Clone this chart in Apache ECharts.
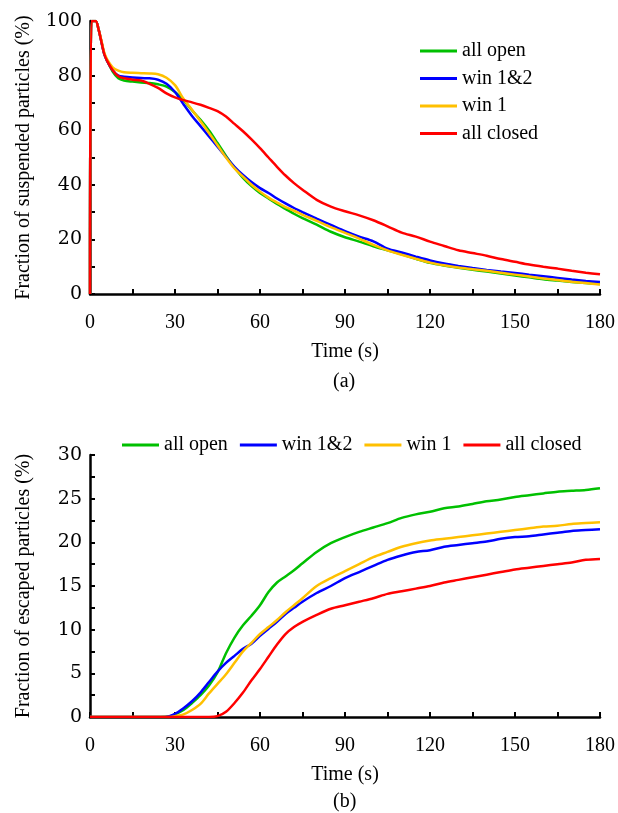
<!DOCTYPE html>
<html>
<head>
<meta charset="utf-8">
<script src="https://cdn.jsdelivr.net/npm/echarts@6/dist/echarts.min.js"></script>
<style>
html,body{margin:0;padding:0;background:#fff;}
#chart{width:618px;height:813px;}
</style>
</head>
<body>
<div id="chart"></div>
<script>
// ---------- Data: (a) suspended particles ----------
var timeA = [0, 0.5, 2, 3, 4, 5, 6, 8, 10, 12, 15, 18, 21, 24, 27, 30, 33, 36, 39, 42, 45, 48, 51, 54, 57, 60, 63, 66, 69, 72, 75, 80, 85, 90, 95, 100, 105, 110, 115, 120, 125, 130, 135, 140, 145, 150, 155, 160, 165, 170, 175, 180];
var suspAllOpen = [0, 100, 100, 97, 92.5, 88, 85.5, 81.5, 79, 78.2, 77.8, 77.5, 77.3, 76.8, 76, 74, 71, 67.3, 63.8, 59.9, 55.3, 50.6, 46.3, 42.5, 39.5, 37, 35, 33, 31.2, 29.4, 27.8, 25.4, 22.8, 20.8, 19.2, 17.5, 16, 14.5, 12.9, 11.4, 10.4, 9.6, 8.9, 8.2, 7.5, 6.8, 6.1, 5.4, 4.9, 4.4, 4.0, 3.7];
var suspWin12 = [0, 100, 100, 97, 92.5, 88, 85.5, 82, 80, 79.6, 79.3, 79.1, 79, 78.5, 77, 74, 69.5, 65.2, 61.5, 57.7, 54, 50.2, 46.6, 43.6, 41, 38.8, 37, 35, 33.2, 31.5, 30, 27.6, 25.3, 23, 21, 19.3, 16.6, 15.2, 13.7, 12.3, 11.2, 10.3, 9.5, 8.8, 8.2, 7.7, 7.1, 6.5, 5.9, 5.3, 4.8, 4.4];
var suspWin1 = [0, 100, 100, 97, 93, 88.5, 86, 83, 81.8, 81.2, 81, 80.9, 80.8, 80.5, 79.2, 76.5, 71.5, 67.5, 63.3, 59, 54.5, 50, 46, 43, 40, 37.5, 35.3, 33.5, 31.8, 30.5, 29, 26.8, 24.5, 22.4, 20.3, 18, 16, 14.4, 12.9, 11.5, 10.5, 9.7, 9.1, 8.5, 7.8, 7.1, 6.4, 5.7, 5.1, 4.5, 4.0, 3.5];
var suspAllClosed = [0, 100, 100, 97, 92.5, 88, 85.5, 82, 79.8, 79, 78.5, 78.2, 77, 75.5, 73.5, 72, 71, 70.2, 69.3, 68.2, 67, 65, 62.3, 59.6, 56.6, 53.4, 50, 46.6, 43.4, 40.6, 38.2, 34.5, 32, 30.3, 28.8, 27, 24.8, 22.5, 21, 19.2, 17.6, 16, 15, 14, 12.8, 11.8, 10.8, 10, 9.3, 8.5, 7.8, 7.2];

// ---------- Data: (b) escaped particles ----------
var timeB = [0, 15, 25, 28, 30, 33, 36, 39, 42, 45, 48, 51, 54, 57, 60, 63, 66, 69, 72, 75, 80, 85, 90, 95, 100, 105, 110, 115, 120, 125, 130, 135, 140, 145, 150, 155, 160, 165, 170, 175, 180];
var escAllOpen = [0, 0, 0, 0.05, 0.3, 0.8, 1.6, 2.5, 3.6, 5.1, 7.3, 9.1, 10.5, 11.6, 12.8, 14.3, 15.4, 16.1, 16.8, 17.6, 18.9, 19.9, 20.6, 21.2, 21.7, 22.2, 22.8, 23.2, 23.5, 23.9, 24.1, 24.4, 24.7, 24.9, 25.2, 25.4, 25.6, 25.8, 25.9, 26.0, 26.2];
var escWin12 = [0, 0, 0, 0.1, 0.35, 1.0, 1.8, 2.8, 4.0, 5.2, 6.2, 7.0, 7.8, 8.4, 9.3, 10.1, 10.9, 11.8, 12.5, 13.2, 14.2, 15.0, 15.9, 16.6, 17.3, 18.0, 18.5, 18.9, 19.1, 19.5, 19.7, 19.9, 20.1, 20.4, 20.6, 20.7, 20.9, 21.1, 21.3, 21.4, 21.5];
var escWin1 = [0, 0, 0, 0, 0.1, 0.3, 0.8, 1.5, 2.7, 3.8, 4.9, 6.2, 7.5, 8.5, 9.5, 10.3, 11.1, 12.0, 12.8, 13.6, 15.0, 15.9, 16.7, 17.5, 18.3, 18.9, 19.5, 19.9, 20.2, 20.4, 20.6, 20.8, 21.0, 21.2, 21.4, 21.6, 21.8, 21.9, 22.1, 22.2, 22.3];
var escAllClosed = [0, 0, 0, 0, 0, 0, 0, 0, 0, 0.1, 0.6, 1.6, 2.8, 4.2, 5.5, 6.9, 8.3, 9.5, 10.3, 10.9, 11.7, 12.4, 12.8, 13.2, 13.6, 14.1, 14.4, 14.7, 15.0, 15.4, 15.7, 16.0, 16.3, 16.6, 16.9, 17.1, 17.3, 17.5, 17.7, 18.0, 18.1];

var seriesNames = ['all open', 'win 1&2', 'win 1', 'all closed'];
var seriesColors = ['#00C000', '#0000FF', '#FFC000', '#FF0000'];
var xTickLabels = [0, 30, 60, 90, 120, 150, 180];
var yTickLabelsA = [0, 20, 40, 60, 80, 100];
var yTickLabelsB = [0, 5, 10, 15, 20, 25, 30];

var FONT = 'Liberation Serif';
var YFONT = 'DejaVu Serif';
var TXT = '#000';

function pairs(xs, ys) {
  return xs.map(function (x, i) { return [x, ys[i]]; });
}
function mkLine(name, color, xs, ys, gi) {
  return {
    name: name, type: 'line', xAxisIndex: gi, yAxisIndex: gi,
    data: pairs(xs, ys), symbol: 'none', smooth: 0.3,
    lineStyle: { color: color, width: 2.5 }, itemStyle: { color: color },
    animation: false
  };
}
function axisCommon() {
  return {
    axisLine: { show: true, onZero: false, lineStyle: { color: '#000', width: 2.5 } },
    axisTick: { show: true, inside: true, length: 5, lineStyle: { color: '#000', width: 2 } },
    splitLine: { show: false }
  };
}
function xAxisDef(gi) {
  var a = axisCommon();
  return Object.assign(a, {
    type: 'value', gridIndex: gi, min: 0, max: 180, interval: 15,
    name: 'Time (s)', nameLocation: 'middle', nameGap: 48,
    nameTextStyle: { fontFamily: FONT, fontSize: 20, color: TXT },
    axisLabel: {
      fontFamily: FONT, fontSize: 20, color: TXT, margin: 19,
      formatter: function (v) { return xTickLabels.indexOf(v) >= 0 ? String(v) : ''; }
    }
  });
}
function yAxisDef(gi, max, interval, labels, name) {
  var a = axisCommon();
  return Object.assign(a, {
    type: 'value', gridIndex: gi, min: 0, max: max, interval: interval,
    name: name, nameLocation: 'middle', nameGap: 56,
    nameTextStyle: { fontFamily: FONT, fontSize: 20, color: TXT },
    axisLabel: {
      fontFamily: YFONT, fontSize: 19, color: TXT, margin: 8,
      formatter: function (v) { return labels.indexOf(v) >= 0 ? String(v) : ''; }
    }
  });
}

var chart = echarts.init(document.getElementById('chart'), null, { renderer: 'canvas' });
var option = {
  backgroundColor: '#fff',
  animation: false,
  grid: [
    { left: 90, right: 18, top: 21, height: 273 },
    { left: 90, right: 18, top: 455, height: 262 }
  ],
  xAxis: [xAxisDef(0), xAxisDef(1)],
  yAxis: [
    yAxisDef(0, 100, 10, yTickLabelsA, 'Fraction of suspended particles (%)'),
    yAxisDef(1, 30, 2.5, yTickLabelsB, 'Fraction of escaped particles (%)')
  ],
  legend: [
    {
      orient: 'vertical', left: 420, top: 41, padding: 0, itemWidth: 37, itemHeight: 3, itemGap: 7.5,
      icon: 'rect', data: seriesNames,
      textStyle: { fontFamily: FONT, fontSize: 20, color: TXT, lineHeight: 20 }
    },
    {
      orient: 'horizontal', left: 122, top: 435, padding: 0, itemWidth: 37, itemHeight: 3, itemGap: 12,
      icon: 'rect', data: seriesNames,
      textStyle: { fontFamily: FONT, fontSize: 20, color: TXT, lineHeight: 20 }
    }
  ],
  graphic: [
    { type: 'text', left: 333, top: 372, style: { text: '(a)', font: '20px "Liberation Serif"', fill: TXT } },
    { type: 'text', left: 333, top: 792, style: { text: '(b)', font: '20px "Liberation Serif"', fill: TXT } }
  ],
  series: [
    mkLine(seriesNames[0], seriesColors[0], timeA, suspAllOpen, 0),
    mkLine(seriesNames[1], seriesColors[1], timeA, suspWin12, 0),
    mkLine(seriesNames[2], seriesColors[2], timeA, suspWin1, 0),
    mkLine(seriesNames[3], seriesColors[3], timeA, suspAllClosed, 0),
    mkLine(seriesNames[0], seriesColors[0], timeB, escAllOpen, 1),
    mkLine(seriesNames[1], seriesColors[1], timeB, escWin12, 1),
    mkLine(seriesNames[2], seriesColors[2], timeB, escWin1, 1),
    mkLine(seriesNames[3], seriesColors[3], timeB, escAllClosed, 1)
  ]
};
chart.setOption(option);
</script>
</body>
</html>
